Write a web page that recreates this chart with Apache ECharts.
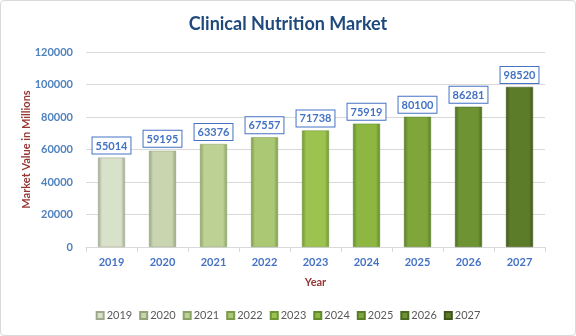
<!DOCTYPE html>
<html><head><meta charset="utf-8">
<script src="https://cdn.jsdelivr.net/npm/echarts@6/dist/echarts.min.js"></script>
<style>
html,body{margin:0;padding:0;background:#fff;}
#wrap{position:absolute;left:0;top:0;width:574px;height:334px;border:1px solid #d9d9d9;border-radius:4px;}
#c{width:576px;height:336px;position:absolute;left:0;top:0;}
</style></head>
<body><div id="wrap"></div><div id="c"></div>
<script>
const categories = ['2019','2020','2021','2022','2023','2024','2025','2026','2027'];
const values = [55014, 59195, 63376, 67557, 71738, 75919, 80100, 86281, 98520];
const yTicks = [0, 20000, 40000, 60000, 80000, 100000, 120000];
const colors = ['#d8e1ca','#c9d5b0','#bcd193','#abc874','#9cc250','#8db741','#7ea63a','#6e9333','#5c7c2a'];
const dark = ['#9ea88c','#94a37a','#8aa265','#7d9a4c','#6f9534','#638a2b','#587c27','#4b6a21','#3e561b'];

const chart = echarts.init(document.getElementById('c'), null, {renderer:'canvas'});
const series = categories.map((cat, i) => ({
  name: cat,
  type: 'bar',
  stack: 'all',
  barWidth: 27,
  data: categories.map((c, j) => j === i ? values[j] : '-'),
  itemStyle: {
    color: new echarts.graphic.LinearGradient(0,0,1,0,[
      {offset:0,color:dark[i]},{offset:0.15,color:colors[i]},{offset:0.85,color:colors[i]},{offset:1,color:dark[i]}
    ]),
    borderColor: dark[i], borderWidth: 0.5
  },
  label: {
    show: true, position: 'top', distance: 4,
    color: '#4472c4', fontWeight: 'bold', fontSize: 11, fontFamily: 'Lato',
    backgroundColor: '#fff', borderColor: '#4472c4', borderWidth: 1,
    padding: [3, 3, 2, 3]
  }
}));

chart.setOption({
  animation: false,
  textStyle: {fontFamily: 'Lato', fontWeight: 'bold'},
  title: {
    text: 'Clinical Nutrition Market', left: 'center', top: 10,
    textStyle: {color: '#1f497d', fontSize: 18, fontWeight: 'bold', fontFamily: 'Lato'}
  },
  legend: {
    data: categories, bottom: 10, left: 'center', itemWidth: 7, itemHeight: 7, itemGap: 7,
    icon: 'rect',
    textStyle: {color: '#595959', fontSize: 11, fontFamily: 'Lato', fontWeight: 'normal', padding: [0,0,0,-2]}
  },
  grid: {left: 86, right: 31, top: 52, bottom: 89},
  xAxis: {
    type: 'category', data: categories,
    name: 'Year', nameLocation: 'middle', nameGap: 30, nameMoveOverlap: false,
    nameTextStyle: {color: '#953735', fontWeight: 'bold', fontSize: 11, fontFamily: 'Lato'},
    axisLine: {lineStyle: {color: '#d9d9d9'}},
    axisTick: {show: true, length: 5, lineStyle: {color: '#d9d9d9'}},
    axisLabel: {color: '#4472c4', fontWeight: 'bold', fontSize: 11, fontFamily: 'Lato', margin: 10}
  },
  yAxis: {
    type: 'value', min: 0, max: 120000, interval: 20000,
    name: 'Market Value in Millions', nameLocation: 'middle', nameGap: 54, nameRotate: 90, nameMoveOverlap: false,
    nameTextStyle: {color: '#953735', fontWeight: 'bold', fontSize: 11, fontFamily: 'Lato'},
    axisLine: {show: false}, axisTick: {show: false},
    splitLine: {lineStyle: {color: '#d9d9d9'}},
    axisLabel: {color: '#4f81bd', fontWeight: 'bold', fontSize: 11, fontFamily: 'Lato', margin: 13,
      formatter: v => yTicks.includes(v) ? String(v) : ''}
  },
  series: series
});
</script></body></html>
